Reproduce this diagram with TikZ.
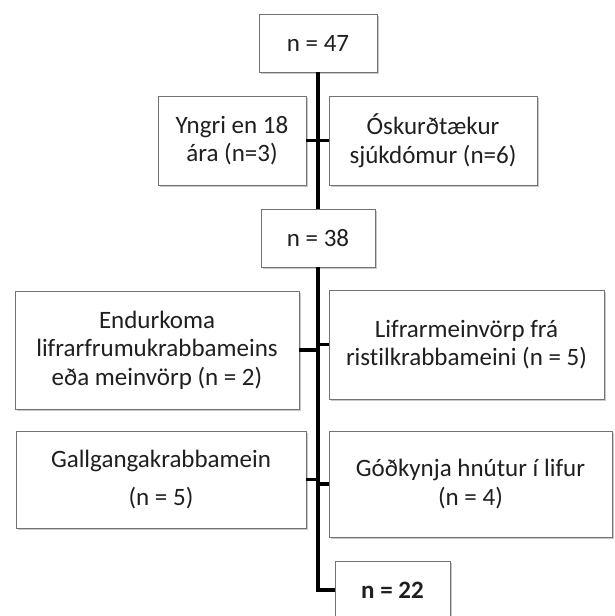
\documentclass[tikz,border=0pt]{standalone}
\usepackage{fontspec}
\setmainfont{Carlito}[Ligatures=NoCommon]
\usetikzlibrary{shadows}
\begin{document}
\begin{tikzpicture}[x=1pt,y=-1pt,
  box/.style={draw=black!55, line width=0.8pt, fill=white, rectangle, inner sep=0pt,
    align=center, text=black!88,
    font=\fontsize{25}{28.5}\selectfont,
    drop shadow={shadow xshift=1.5pt, shadow yshift=-1.5pt, opacity=0.35, fill=black!60}},
  link/.style={line width=3.2pt, black}]
\useasboundingbox (0,0) rectangle (614,616);
\clip (0,0) rectangle (614,616);
\fill[white] (0,0) rectangle (614,616);
\node[box, minimum width=118pt, minimum height=58pt] (n47) at (318,43) {n = 47};
\node[box, minimum width=148pt, minimum height=89pt] (yngri) at (232,140.5) {Yngri en 18\\ára (n=3)};
\node[box, minimum width=208pt, minimum height=89pt] (osk) at (433,140.5) {Óskurðtækur\\sjúkdómur (n=6)};
\node[box, minimum width=114pt, minimum height=58pt] (n38) at (318,238) {n = 38};
\node[box, minimum width=284pt, minimum height=118pt] (endur) at (157,350) {Endurkoma\\lifrarfrumukrabbameins\\eða meinvörp (n = 2)};
\node[box, minimum width=275pt, minimum height=109pt] (lifr) at (466.5,344.5) {Lifrarmeinvörp frá\\ristilkrabbameini (n = 5)};
\node[box, minimum width=290pt, minimum height=97pt] (gall) at (161,479.5) {Gallgangakrabbamein\\[9pt](n = 5)};
\node[box, minimum width=283pt, minimum height=106pt] (god) at (470.5,484) {Góðkynja hnútur í lifur\\(n = 4)};
\node[box, minimum width=115pt, minimum height=58pt, font=\fontsize{25}{28.5}\selectfont\bfseries] (n22) at (392.5,590) {n = 22};
\draw[link] (n47.south) -- (n38.north);
\draw[link] (n38.south) |- (n22.west);
\draw[link] (yngri.east) -- (osk.west);
\draw[link] (endur.east) -- (endur.east -| n38.south);
\draw[link] (lifr.west) -- (lifr.west -| n38.south);
\draw[link] (gall.east) -- (gall.east -| n38.south);
\draw[link] (god.west) -- (god.west -| n38.south);
\end{tikzpicture}
\end{document}
